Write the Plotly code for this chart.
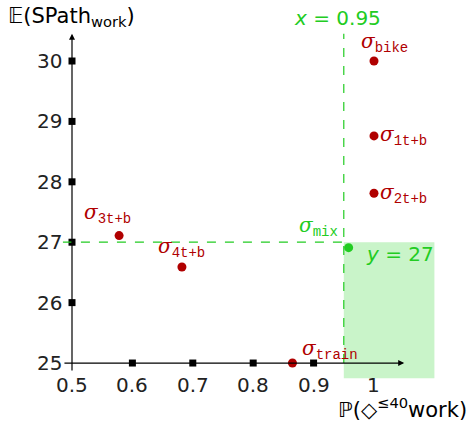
import plotly.graph_objects as go

# data
strategies = ['bike', '1t+b', '2t+b', '3t+b', '4t+b', 'train']
prob_work = [1.0, 1.0, 1.0, 0.578, 0.682, 0.865]
exp_path = [30.0, 28.76, 27.81, 27.11, 26.59, 25.0]
mix_point = (0.958, 26.91)
x_thresh = 0.95
y_thresh = 27
x_ticks = [0.5, 0.6, 0.7, 0.8, 0.9, 1]
x_tick_labels = ['0.5', '0.6', '0.7', '0.8', '0.9', '1']
y_ticks = [25, 26, 27, 28, 29, 30]
y_tick_labels = ['25', '26', '27', '28', '29', '30']

RED = '#b00000'
GREEN = '#22cc22'
FONT = 'DejaVu Sans'
TT = 'style="font-family:Liberation Mono"'

fig = go.Figure()

# tick marks on the axes
fig.add_trace(go.Scatter(
    x=x_ticks[1:-1], y=[y_ticks[0]] * (len(x_ticks) - 2),
    mode='markers', marker=dict(symbol='square', size=7, color='black'),
    hoverinfo='skip'))
fig.add_trace(go.Scatter(
    x=[x_ticks[0]] * (len(y_ticks) - 1), y=y_ticks[1:],
    mode='markers', marker=dict(symbol='square', size=7, color='black'),
    hoverinfo='skip'))

fig.add_trace(go.Scatter(
    x=prob_work, y=exp_path, mode='markers',
    marker=dict(size=9, color=RED), text=strategies))
fig.add_trace(go.Scatter(
    x=[mix_point[0]], y=[mix_point[1]], mode='markers',
    marker=dict(size=9, color=GREEN)))

# feasible region + threshold lines
fig.add_shape(type='rect', x0=x_thresh, x1=1.1, y0=24.75, y1=y_thresh,
              fillcolor='rgba(40,210,40,0.25)', line_width=0, layer='below')
fig.add_shape(type='line', x0=x_thresh, x1=x_thresh, y0=25, y1=30.45,
              line=dict(color=GREEN, dash='dash', width=1.2))
fig.add_shape(type='line', x0=0.485, x1=x_thresh, y0=y_thresh, y1=y_thresh,
              line=dict(color=GREEN, dash='dash', width=1.2))

# axes with arrows
fig.add_annotation(x=1.05, y=25, ax=0.485, ay=25, axref='x', ayref='y',
                   text='', showarrow=True, arrowhead=2, arrowsize=1,
                   arrowwidth=1.2, arrowcolor='black')
fig.add_annotation(x=0.5, y=30.45, ax=0.5, ay=24.85, axref='x', ayref='y',
                   text='', showarrow=True, arrowhead=2, arrowsize=1,
                   arrowwidth=1.2, arrowcolor='black')

for xv, lab in zip(x_ticks, x_tick_labels):
    fig.add_annotation(x=xv, y=25, text=lab, showarrow=False, yanchor='top',
                       yshift=-8, font=dict(size=20, color='#222'))
for yv, lab in zip(y_ticks, y_tick_labels):
    fig.add_annotation(x=0.5, y=yv, text=lab, showarrow=False, xanchor='right',
                       xshift=-8, font=dict(size=20, color='#222'))

# axis titles
fig.add_annotation(x=0.5, y=30.45, text='𝔼(SPath<sub>work</sub>)', showarrow=False,
                   xanchor='center', yanchor='bottom', xshift=-1, yshift=2,
                   font=dict(size=21, color='black'))
fig.add_annotation(x=1.157, y=25, text='ℙ(◇<sup>≤40</sup>work)', showarrow=False,
                   xanchor='right', yanchor='top', yshift=-29,
                   font=dict(size=21, color='black'))

# point labels
labels = [
    (1.0, 30.0, 'bike', 'bottom', 'left', -15, 3),
    (1.0, 28.76, '1t+b', 'middle', 'left', 4, 0),
    (1.0, 27.81, '2t+b', 'middle', 'left', 4, 0),
    (0.578, 27.11, '3t+b', 'bottom', 'center', -12, 7),
    (0.682, 26.59, '4t+b', 'bottom', 'center', 0, 4),
    (0.865, 25.0, 'train', 'bottom', 'left', 8, -2),
]
for xv, yv, name, ya, xa, xs, ys in labels:
    fig.add_annotation(x=xv, y=yv, showarrow=False, xanchor=xa, yanchor=ya,
                       xshift=xs, yshift=ys,
                       text=f'<i>σ</i><sub><span {TT}>{name}</span></sub>',
                       font=dict(size=20, color=RED, family='DejaVu Serif'))
fig.add_annotation(x=x_thresh, y=y_thresh, showarrow=False, xanchor='right',
                   yanchor='bottom', xshift=-4, yshift=0,
                   text=f'<i>σ</i><sub><span {TT}>mix</span></sub>',
                   font=dict(size=20, color=GREEN, family='DejaVu Serif'))
fig.add_annotation(x=x_thresh, y=30.45, showarrow=False, xanchor='center',
                   yanchor='bottom', xshift=-6, yshift=2,
                   text='<i>x</i> = 0.95', font=dict(size=20, color=GREEN))
fig.add_annotation(x=1.1, y=y_thresh, showarrow=False, xanchor='right',
                   yanchor='top', xshift=2, yshift=2,
                   text='<i>y</i> = 27', font=dict(size=20, color=GREEN))

fig.update_layout(
    width=469, height=425,
    margin=dict(l=0, r=0, t=0, b=0),
    plot_bgcolor='white', paper_bgcolor='white',
    showlegend=False,
    font=dict(family=FONT),
    xaxis=dict(range=[0.3808, 1.1573], visible=False, fixedrange=True),
    yaxis=dict(range=[23.974, 31.010], visible=False, fixedrange=True),
)

fig.write_html('out.html', config={'displayModeBar': False},
               post_script="document.body.style.margin='0';")
